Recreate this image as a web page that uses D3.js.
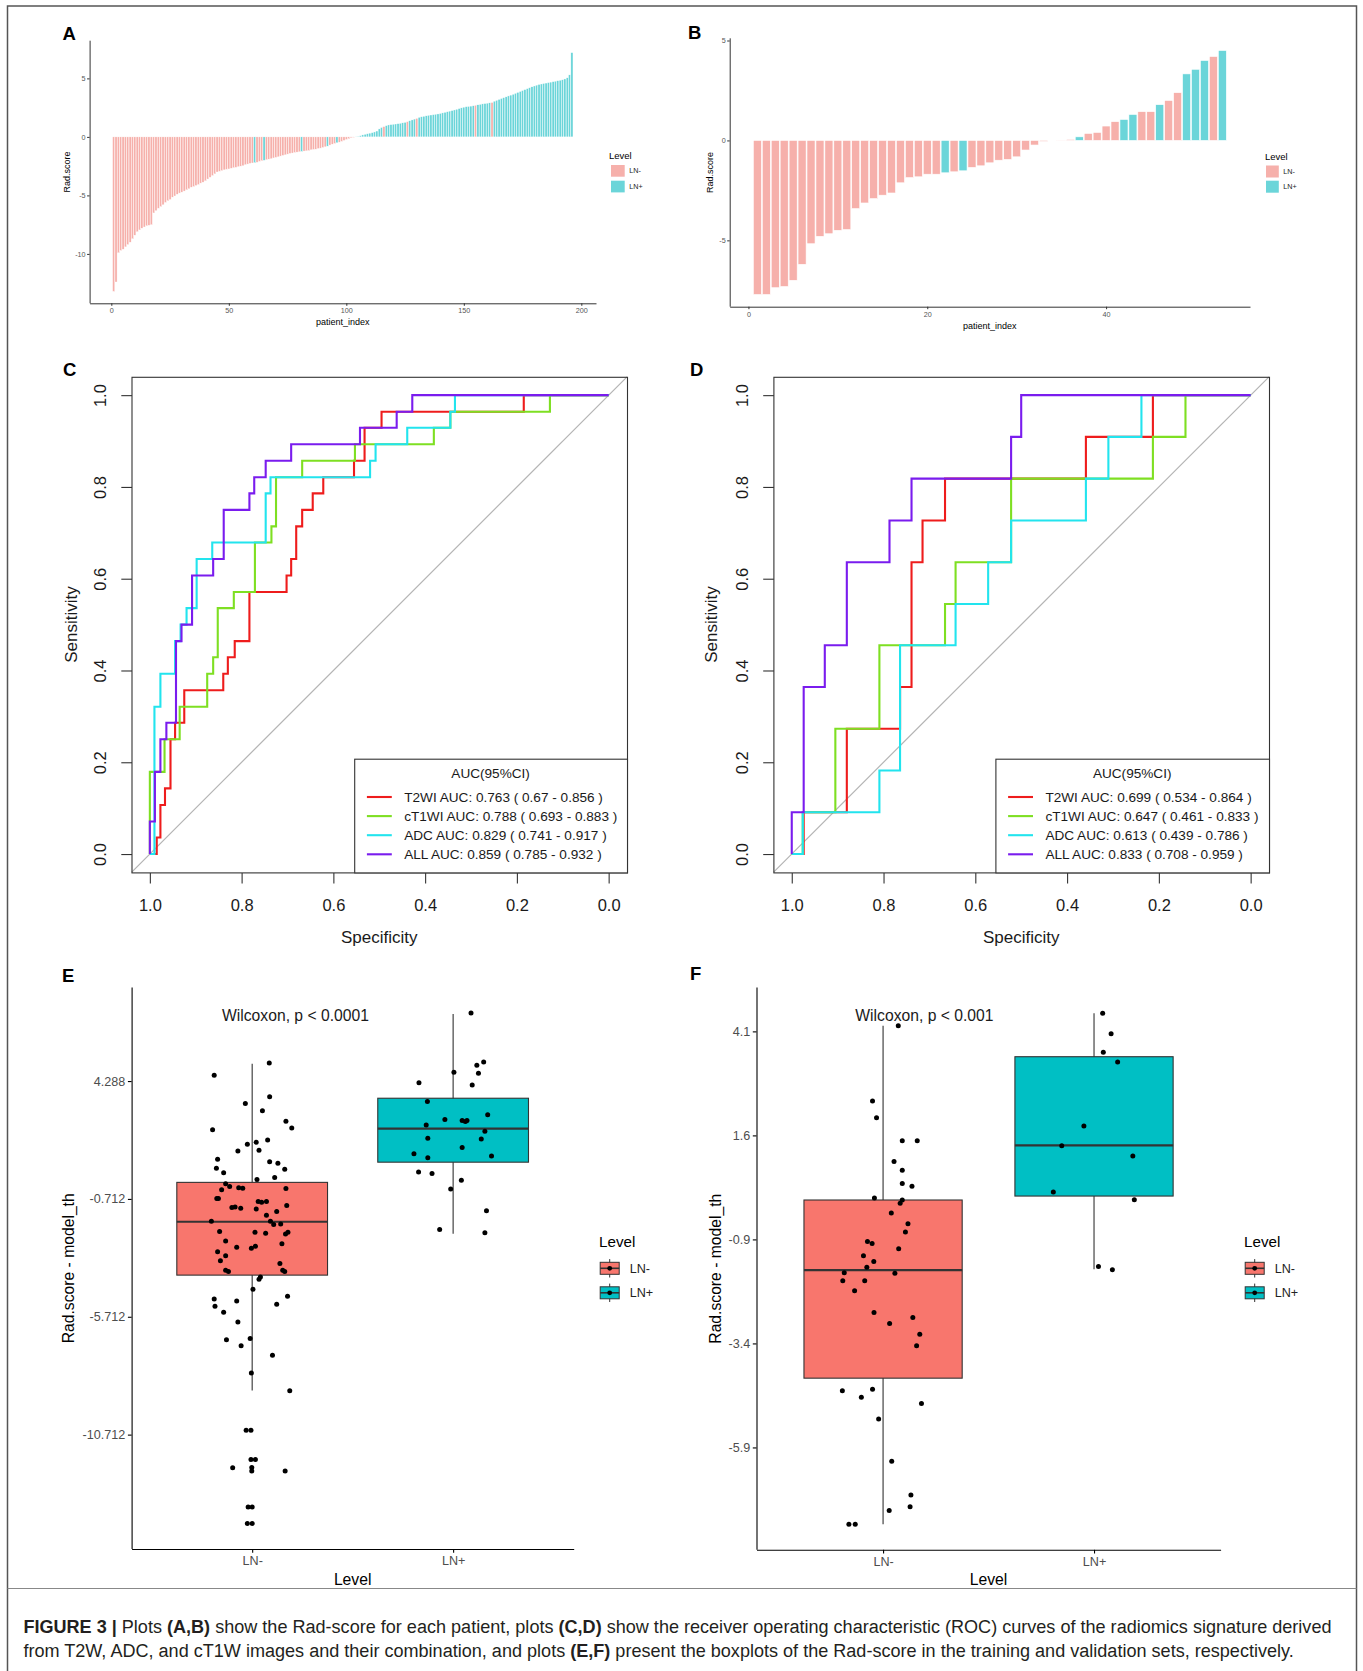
<!DOCTYPE html>
<html><head><meta charset="utf-8">
<script src="https://cdn.jsdelivr.net/npm/d3@7"></script>
<style>body{margin:0;background:#fff}svg{display:block}</style>
</head><body>
<svg id="fig" width="1363" height="1671"></svg>
<script>
// ---------------- DATA ----------------
// Panel A: Rad-score per patient (training set), sorted
const radA = [
-13.2,-12.4,-9.9,-9.7,-9.6,-9.4,-9.2,-9.0,-8.7,-8.4,
-8.1,-7.95,-7.8,-7.7,-7.6,-7.55,-7.5,-6.5,-6.3,-6.1,
-5.95,-5.8,-5.6,-5.45,-5.35,-5.15,-5.05,-4.9,-4.8,-4.72,
-4.63,-4.52,-4.43,-4.3,-4.24,-4.15,-4.07,-3.95,-3.87,-3.75,
-3.6,-3.45,-3.3,-3.16,-3.0,-2.94,-2.88,-2.82,-2.77,-2.74,
-2.68,-2.63,-2.6,-2.54,-2.5,-2.46,-2.37,-2.32,-2.26,-2.23,
-2.2,-2.17,-2.09,-2.03,-2.0,-1.95,-1.9,-1.86,-1.8,-1.75,
-1.7,-1.64,-1.58,-1.53,-1.47,-1.41,-1.38,-1.33,-1.3,-1.27,
-1.24,-1.21,-1.19,-1.16,-1.1,-1.07,-1.05,-0.99,-0.96,-0.9,
-0.85,-0.79,-0.7,-0.62,-0.56,-0.5,-0.45,-0.38,-0.3,-0.22,
-0.15,-0.08,-0.04,0.02,0.05,0.1,0.17,0.22,0.27,0.32,
0.36,0.42,0.5,0.68,0.8,0.88,0.96,1.02,1.05,1.08,
1.1,1.13,1.16,1.2,1.24,1.3,1.38,1.45,1.52,1.58,
1.67,1.72,1.76,1.8,1.84,1.87,1.9,1.93,1.96,2.0,
2.05,2.1,2.15,2.2,2.25,2.3,2.36,2.42,2.48,2.54,
2.58,2.6,2.63,2.66,2.7,2.74,2.78,2.82,2.85,2.88,
2.91,2.94,3.05,3.12,3.2,3.28,3.35,3.42,3.5,3.57,
3.64,3.72,3.8,3.88,3.96,4.04,4.12,4.2,4.28,4.35,
4.42,4.48,4.52,4.56,4.6,4.64,4.68,4.72,4.76,4.8,
4.84,4.88,4.95,5.05,5.3,7.2];
// patients (1-based) whose level differs from the sign of their score
const flipA = [61,65,81,92,96,116,126,130,155,162];

// Panel B: Rad-score per patient (validation set)
const radB = [-7.71,-7.71,-7.37,-7.31,-7.0,-6.2,-5.17,-4.8,-4.67,-4.5,
-4.46,-3.41,-3.13,-2.91,-2.74,-2.63,-2.12,-1.86,-1.82,-1.69,
-1.69,-1.62,-1.57,-1.52,-1.35,-1.27,-1.12,-0.99,-0.95,-0.82,
-0.48,-0.23,-0.05,-0.02,0.01,0.05,0.18,0.35,0.4,0.72,
0.94,1.05,1.3,1.44,1.44,1.79,2.0,2.39,3.33,3.56,
4.0,4.2,4.5];
const lnPlusB = [22,24,37,42,43,46,49,50,51,53];

const barXTicksA = [0,50,100,150,200];
const barYTicksA = [5,0,-5,-10];
const barXTicksB = [0,20,40];
const barYTicksB = [5,0,-5];
const levels = ["LN-","LN+"];

// Panels C, D: ROC step curves, [specificity, sensitivity] at each rise
const rocC_T2WI = [[1,0],[0.985,0.036],[0.977,0.107],[0.967,0.143],[0.955,0.25],[0.945,0.286],[0.925,0.357],[0.84,0.393],[0.83,0.429],[0.815,0.464],[0.783,0.571],[0.702,0.607],[0.692,0.643],[0.681,0.714],[0.668,0.75],[0.645,0.786],[0.622,0.821],[0.555,0.857],[0.532,0.929],[0.495,0.964],[0.185,1],[0,1]];
const rocC_cT1WI = [[1,0],[1,0.179],[0.968,0.25],[0.935,0.321],[0.875,0.393],[0.862,0.429],[0.852,0.536],[0.817,0.571],[0.771,0.679],[0.735,0.714],[0.725,0.821],[0.668,0.857],[0.553,0.893],[0.381,0.929],[0.345,0.964],[0.128,1],[0,1]];
const rocC_ADC = [[1,0],[0.99,0.321],[0.977,0.393],[0.945,0.464],[0.933,0.5],[0.92,0.536],[0.898,0.643],[0.864,0.679],[0.7475,0.786],[0.737,0.821],[0.52,0.857],[0.508,0.893],[0.439,0.929],[0.345,0.964],[0.335,1],[0,1]];
const rocC_ALL = [[1,0],[1,0.071],[0.989,0.179],[0.977,0.25],[0.964,0.286],[0.943,0.464],[0.931,0.5],[0.908,0.607],[0.862,0.643],[0.839,0.75],[0.783,0.786],[0.7725,0.821],[0.7475,0.857],[0.692,0.893],[0.542,0.929],[0.462,0.964],[0.428,1],[0,1]];
const aucLabelsC = ["T2WI AUC: 0.763 ( 0.67 - 0.856 )","cT1WI AUC: 0.788 ( 0.693 - 0.883 )","ADC AUC: 0.829 ( 0.741 - 0.917 )","ALL AUC: 0.859 ( 0.785 - 0.932 )"];

const rocD_T2WI = [[1,0],[0.974,0.091],[0.88,0.273],[0.764,0.364],[0.739,0.636],[0.715,0.727],[0.666,0.818],[0.359,0.909],[0.213,1],[0,1]];
const rocD_cT1WI = [[1,0],[0.976,0.091],[0.905,0.273],[0.809,0.455],[0.666,0.545],[0.643,0.636],[0.522,0.818],[0.213,0.909],[0.142,1],[0,1]];
const rocD_ADC = [[1,0],[0.976,0.091],[0.809,0.182],[0.764,0.455],[0.643,0.545],[0.572,0.636],[0.522,0.727],[0.359,0.818],[0.31,0.909],[0.238,1],[0,1]];
const rocD_ALL = [[1,0],[1,0.091],[0.974,0.364],[0.928,0.455],[0.88,0.636],[0.787,0.727],[0.739,0.818],[0.522,0.909],[0.5,1],[0,1]];
const aucLabelsD = ["T2WI AUC: 0.699 ( 0.534 - 0.864 )","cT1WI AUC: 0.647 ( 0.461 - 0.833 )","ADC AUC: 0.613 ( 0.439 - 0.786 )","ALL AUC: 0.833 ( 0.708 - 0.959 )"];
const rocTicks = [1,0.8,0.6,0.4,0.2,0];

// Panels E, F: box statistics [lower whisker, Q1, median, Q3, upper whisker]
const boxE_neg = [-8.84,-3.945,-1.68,-0.01,5.02];
const boxE_pos = [-2.19,0.847,2.27,3.56,7.13];
const boxF_neg = [-7.746,-4.235,-1.637,0.047,4.233];
const boxF_pos = [-1.618,0.142,1.36,3.491,4.538];
// jittered points: [value, horizontal jitter in category units]
const ptsE_neg = [[5.059,0.085],[4.539,-0.189],[3.618,0.087],[3.333,-0.034],[3.031,0.051],[2.579,0.168],[2.227,-0.197],[2.294,0.197],[1.791,0.077],[1.607,-0.024],
[1.69,0.02],[1.355,0.034],[1.322,-0.071],[0.97,-0.172],[0.869,0.087],[0.802,0.128],[0.584,-0.178],[0.4,-0.142],[0.551,0.162],[0.199,0.112],
[0.115,0.024],[-0.069,-0.132],[-0.187,-0.112],[-0.237,-0.067],[-0.254,-0.047],[-0.321,-0.152],[-0.271,0.168],[-0.689,-0.176],[-0.689,-0.168],[-0.823,0.03],
[-0.857,0.047],[-0.823,0.071],[-1.075,-0.101],[-1.058,-0.085],[-1.108,-0.057],[-1.142,0.02],[-0.991,0.172],[-1.242,0.122],[-1.41,0.071],[-1.661,0.091],
[-1.661,-0.203],[-1.795,0.107],[-1.779,0.142],[-2.097,-0.162],[-2.131,0.014],[-2.164,0.067],[-2.131,0.178],[-2.198,0.166],[-2.499,-0.132],[-2.617,0.148],
[-2.767,-0.077],[-2.717,0.016],[-2.801,-0.004],[-2.952,-0.172],[-3.119,-0.132],[-3.337,-0.158],[-3.455,0.138],[-3.739,-0.132],[-3.79,-0.118],[-3.739,0.152],
[-3.79,0.162],[-4.024,0.041],[-4.125,0.034],[-4.544,0.004],[-4.846,0.176],[-4.963,-0.189],[-5.047,-0.077],[-5.264,-0.185],[-5.181,0.122],[-5.516,-0.142],
[-5.935,-0.071],[-6.689,-0.128],[-6.639,-0.01],[-6.94,-0.055],[-7.343,0.101],[-8.097,-0.004],[-8.851,0.187],[-10.527,-0.03],[-10.527,-0.006],[-11.767,-0.006],
[-11.767,0.016],[-12.119,-0.097],[-12.102,-0.002],[-12.253,-0.002],[-12.253,0.164],[-13.778,-0.02],[-13.778,0],[-14.482,-0.024],[-14.482,0]];
const ptsE_pos = [[7.171,0.089],[5.092,0.152],[4.958,0.118],[4.657,0.004],[4.623,0.126],[4.221,-0.17],[4.12,0.095],[3.417,-0.128],[2.864,0.172],[2.662,-0.041],
[2.612,0.045],[2.612,0.069],[2.578,0.061],[2.428,-0.134],[2.16,0.158],[1.858,-0.126],[1.825,0.14],[1.472,0.045],[1.204,-0.195],[1.104,0.191],
[1.037,-0.126],[0.433,-0.172],[0.366,-0.105],[0.082,0.041],[-0.287,-0.012],[-1.209,0.166],[-2.013,-0.067],[-2.147,0.158]];
const ptsF_neg = [[4.233,0.072],[2.425,-0.05],[2.026,-0.031],[1.474,0.091],[1.474,0.162],[0.97,0.052],[0.76,0.091],[0.446,0.091],[0.38,0.137],[0.094,-0.041],
[0.047,0.091],[-0.029,0.081],[-0.267,0.039],[-0.524,0.118],[-0.724,0.106],[-0.952,-0.074],[-1.0,-0.052],[-1.124,0.074],[-1.295,-0.093],[-1.428,-0.044],
[-1.571,-0.077],[-1.704,-0.184],[-1.713,0.056],[-1.894,-0.191],[-1.894,-0.087],[-2.132,-0.135],[-2.655,-0.043],[-2.779,0.141],[-2.922,0.031],[-3.179,0.174],
[-3.455,0.159],[-4.539,-0.193],[-4.501,-0.05],[-4.692,-0.103],[-4.844,0.182],[-5.215,-0.021],[-6.233,0.041],[-7.042,0.132],[-7.327,0.128],[-7.413,0.029],
[-7.746,-0.162],[-7.746,-0.132]];
const ptsF_pos = [[4.538,0.041],[4.043,0.081],[3.596,0.044],[3.367,0.112],[1.826,-0.048],[1.35,-0.153],[1.103,0.184],[0.237,-0.193],[0.056,0.191],[-1.552,0.021],[-1.628,0.087]];
const yTicksE = [4.288,-0.712,-5.712,-10.712];
const yTicksF = [4.1,1.6,-0.9,-3.4,-5.9];

const captionLine1 = [["FIGURE 3 |",true],[" Plots ",false],["(A,B)",true],[" show the Rad-score for each patient, plots ",false],["(C,D)",true],[" show the receiver operating characteristic (ROC) curves of the radiomics signature derived",false]];
const captionLine2 = [["from T2W, ADC, and cT1W images and their combination, and plots ",false],["(E,F)",true],[" present the boxplots of the Rad-score in the training and validation sets, respectively.",false]];

// ---------------- STYLE ----------------
const FONT = "'Liberation Sans', Arial, Helvetica, sans-serif";
const PINK_L = "#F6B0AB", CYAN_L = "#6BD5D9";
const BOX_NEG = "#F8766D", BOX_POS = "#00BFC4";
const ROC_COLS = ["#EE1C1C","#7EDF22","#22E4EE","#7A1CEE"];

const svg = d3.select("#fig");
svg.append("rect").attr("width",1363).attr("height",1671).attr("fill","#fff");
svg.append("rect").attr("x",7.5).attr("y",6).attr("width",1349).attr("height",1720)
  .attr("fill","none").attr("stroke","#555").attr("stroke-width",1.5);
svg.append("line").attr("x1",7.5).attr("x2",1356.5).attr("y1",1588.5).attr("y2",1588.5)
  .attr("stroke","#888").attr("stroke-width",1);

function styleAxis(sel, fs, txtCol, lineCol, lw){
  sel.attr("font-family",FONT).attr("font-size",fs);
  sel.selectAll("text").attr("fill",txtCol);
  sel.selectAll("line").attr("stroke",lineCol).attr("stroke-width",lw);
  sel.select(".domain").attr("stroke",lineCol).attr("stroke-width",lw);
}
function txt(g,x,y,s,fs,opts={}){
  const t=g.append("text").attr("x",x).attr("y",y).text(s)
    .attr("font-family",FONT).attr("font-size",fs).attr("fill",opts.fill||"#000");
  if(opts.anchor) t.attr("text-anchor",opts.anchor);
  if(opts.weight) t.attr("font-weight",opts.weight);
  return t;
}
function vtxt(g,cx,cy,s,fs,fill){
  return g.append("text").attr("transform",`translate(${cx},${cy}) rotate(-90)`)
    .attr("text-anchor","middle").attr("dy","0.35em").text(s)
    .attr("font-family",FONT).attr("font-size",fs).attr("fill",fill||"#000");
}

// ---------------- BAR PANELS ----------------
function barPanel(o){
  const g=svg.append("g");
  const n=o.values.length, idx=d3.range(1,n+1);
  const lo=Math.min(0,d3.min(o.values)), hi=Math.max(0,d3.max(o.values));
  const ex=(n-0.1)*0.05, ey=(hi-lo)*0.05;
  const x=d3.scaleLinear().domain([0.55-ex,n+0.45+ex]).range([o.left,o.right]);
  const y=d3.scaleLinear().domain([lo-ey,hi+ey]).range([o.bottom,o.top]);
  const bw=(x(1)-x(0))*0.9;
  g.append("g").selectAll("rect").data(idx).join("rect")
    .attr("x",i=>x(i)-bw/2).attr("width",bw)
    .attr("y",i=>Math.min(y(0),y(o.values[i-1])))
    .attr("height",i=>Math.abs(y(o.values[i-1])-y(0)))
    .attr("fill",i=>o.level(i)==="LN+"?CYAN_L:PINK_L)
    .attr("stroke","#fff").attr("stroke-width",o.sw);
  const xa=g.append("g").attr("transform",`translate(0,${o.bottom})`)
    .call(d3.axisBottom(x).tickValues(o.xTicks).tickSize(2.5).tickSizeOuter(0).tickPadding(2.5).tickFormat(d=>String(d)));
  styleAxis(xa,o.tickFs,"#555","#333",1);
  const ya=g.append("g").attr("transform",`translate(${o.left},0)`)
    .call(d3.axisLeft(y).tickValues(o.yTicks).tickSize(2.5).tickSizeOuter(0).tickPadding(1.5).tickFormat(d=>String(d)));
  styleAxis(ya,o.tickFs,"#555","#333",1);
  ya.select(".domain").attr("d",`M0.5,${o.bottom}V${o.top}`);
  txt(g,(o.left+o.right)/2,o.xTitleY,"patient_index",o.titleFs,{anchor:"middle"});
  vtxt(g,o.yTitleX,(o.top+o.bottom)/2,"Rad.score",o.titleFs);
  // legend
  txt(g,o.legX,o.legTitleY,"Level",o.legTitleFs);
  levels.forEach((lv,k)=>{
    const ky=o.keyY+k*o.keyStep;
    g.append("rect").attr("x",o.keyX).attr("y",ky).attr("width",o.keyW).attr("height",o.keyH)
      .attr("fill",lv==="LN+"?CYAN_L:PINK_L);
    txt(g,o.keyX+o.keyW+4.5,ky+o.keyH/2+2.6,lv,o.tickFs,{fill:"#222"});
  });
}
barPanel({values:radA, level:i=>((radA[i-1]>0)!==flipA.includes(i))?"LN+":"LN-",
  left:89.6,right:596,top:40.7,bottom:303.3,xTicks:barXTicksA,yTicks:barYTicksA,sw:0.35,
  tickFs:7.2,titleFs:9,xTitleY:324.8,yTitleX:67,
  legX:609,legTitleY:159,legTitleFs:9.5,keyX:611,keyY:165,keyStep:15.7,keyW:13.7,keyH:11.7});
barPanel({values:radB, level:i=>lnPlusB.includes(i)?"LN+":"LN-",
  left:729.7,right:1250,top:38.3,bottom:306.7,xTicks:barXTicksB,yTicks:barYTicksB,sw:0.6,
  tickFs:7.2,titleFs:9,xTitleY:329,yTitleX:710,
  legX:1265,legTitleY:159.5,legTitleFs:9.5,keyX:1266,keyY:165.5,keyStep:15.2,keyW:12.8,keyH:12});

// ---------------- ROC PANELS ----------------
function rocPanel(o){
  const g=svg.append("g");
  const x=d3.scaleLinear().domain([1.04,-0.04]).range([o.left,o.right]);
  const y=d3.scaleLinear().domain([-0.04,1.04]).range([o.bottom,o.top]);
  g.append("line").attr("x1",x(1.04)).attr("y1",y(-0.04)).attr("x2",x(-0.04)).attr("y2",y(1.04))
    .attr("stroke","#B4B4B4").attr("stroke-width",1.2);
  const line=d3.line().x(d=>x(d[0])).y(d=>y(d[1])).curve(d3.curveStepAfter);
  o.curves.forEach((c,k)=>{
    g.append("path").attr("d",line(c)).attr("fill","none").attr("stroke",ROC_COLS[k])
      .attr("stroke-width",2.1).attr("stroke-linejoin","miter");
  });
  g.append("rect").attr("x",o.left+0.5).attr("y",o.top+0.5).attr("width",o.right-o.left).attr("height",o.bottom-o.top)
    .attr("fill","none").attr("stroke","#333").attr("stroke-width",1.1);
  const xa=g.append("g").attr("transform",`translate(0,${o.bottom+0.5})`)
    .call(d3.axisBottom(x).tickValues(rocTicks).tickSize(10.7).tickSizeOuter(0).tickPadding(15.3).tickFormat(d3.format(".1f")));
  styleAxis(xa,16.5,"#1a1a1a","#333",1.1);
  xa.select(".domain").remove();
  const ya=g.append("g").attr("transform",`translate(${o.left+0.5},0)`)
    .call(d3.axisLeft(y).tickValues(rocTicks).tickSize(10.7).tickSizeOuter(0).tickFormat(d3.format(".1f")));
  styleAxis(ya,16.5,"#1a1a1a","#333",1.1);
  ya.select(".domain").remove();
  ya.selectAll(".tick text").attr("x",null).attr("dy",null).attr("text-anchor","middle")
    .attr("transform","translate(-31.7,0) rotate(-90)").attr("dy","0.36em");
  txt(g,(o.left+o.right)/2,943,"Specificity",17,{anchor:"middle",fill:"#1a1a1a"});
  vtxt(g,o.yTitleX,(o.top+o.bottom)/2,"Sensitivity",17,"#1a1a1a");
  // legend
  const lx=o.legLeft, ly=758.7;
  g.append("rect").attr("x",lx+0.5).attr("y",ly+0.5).attr("width",o.right-lx).attr("height",o.bottom-ly)
    .attr("fill","#fff").attr("stroke","#333").attr("stroke-width",1.1);
  txt(g,(lx+o.right)/2,778,"AUC(95%CI)",13.6,{anchor:"middle",fill:"#1a1a1a"});
  o.labels.forEach((s,k)=>{
    const yy=797+k*19.1;
    g.append("line").attr("x1",lx+12.7).attr("x2",lx+37.6).attr("y1",yy).attr("y2",yy)
      .attr("stroke",ROC_COLS[k]).attr("stroke-width",2.1);
    txt(g,lx+50,yy+4.9,s,13.6,{fill:"#1a1a1a"});
  });
}
rocPanel({left:131.5,right:627,top:376.8,bottom:872.4,yTitleX:71,legLeft:354.2,
  curves:[rocC_T2WI,rocC_cT1WI,rocC_ADC,rocC_ALL],labels:aucLabelsC});
rocPanel({left:773.4,right:1269,top:376.8,bottom:872.4,yTitleX:711,legLeft:995.4,
  curves:[rocD_T2WI,rocD_cT1WI,rocD_ADC,rocD_ALL],labels:aucLabelsD});

// ---------------- BOX PANELS ----------------
function boxPanel(o){
  const g=svg.append("g");
  const x=d3.scalePoint().domain(levels).range([o.left,o.right]).padding(0.6);
  const step=x.step();
  const allV=[...o.boxes.flat(),...o.pts.flat().map(p=>p[0])];
  const lo=d3.min(allV), hi=d3.max(allV), e=(hi-lo)*0.05;
  const y=d3.scaleLinear().domain([lo-e,hi+e]).range([o.bottom,o.top]);
  const bw=step*0.75;
  levels.forEach((lv,k)=>{
    const b=o.boxes[k], cx=x(lv);
    g.append("line").attr("x1",cx).attr("x2",cx).attr("y1",y(b[0])).attr("y2",y(b[4]))
      .attr("stroke","#333").attr("stroke-width",1.1);
    g.append("rect").attr("x",cx-bw/2).attr("width",bw).attr("y",y(b[3])).attr("height",y(b[1])-y(b[3]))
      .attr("fill",k?BOX_POS:BOX_NEG).attr("stroke","#333").attr("stroke-width",1.1);
    g.append("line").attr("x1",cx-bw/2).attr("x2",cx+bw/2).attr("y1",y(b[2])).attr("y2",y(b[2]))
      .attr("stroke","#333").attr("stroke-width",2.2);
    g.append("g").selectAll("circle").data(o.pts[k]).join("circle")
      .attr("cx",p=>cx+p[1]*step).attr("cy",p=>y(p[0])).attr("r",2.5).attr("fill","#000");
  });
  const xa=g.append("g").attr("transform",`translate(0,${o.bottom})`)
    .call(d3.axisBottom(x).tickSize(3.7).tickSizeOuter(0).tickPadding(3.5));
  styleAxis(xa,12.6,"#4D4D4D","#000",1.1);
  const ya=g.append("g").attr("transform",`translate(${o.left},0)`)
    .call(d3.axisLeft(y).tickValues(o.yTicks).tickSize(3.7).tickSizeOuter(0).tickPadding(2.6).tickFormat(d=>String(d)));
  styleAxis(ya,12.6,"#4D4D4D","#000",1.1);
  ya.select(".domain").attr("d",`M0.5,${o.bottom}V${o.top}`);
  txt(g,(o.left+o.right)/2,1585,"Level",15.7,{anchor:"middle"});
  vtxt(g,o.yTitleX,(o.top+o.bottom)/2,"Rad.score - model_th",15.7);
  txt(g,o.wilX,1020.7,o.wilText,15.7,{fill:"#1a1a1a"});
  // legend
  txt(g,o.legX,1247.3,"Level",15.2);
  levels.forEach((lv,k)=>{
    const cy=1268.3+k*24.5, cx=o.legX+10.7;
    g.append("line").attr("x1",cx).attr("x2",cx).attr("y1",cy-9.2).attr("y2",cy+9.2).attr("stroke","#333").attr("stroke-width",1);
    g.append("rect").attr("x",cx-9.5).attr("y",cy-6).attr("width",19).attr("height",12)
      .attr("fill",k?BOX_POS:BOX_NEG).attr("stroke","#333").attr("stroke-width",1);
    g.append("line").attr("x1",cx-9.5).attr("x2",cx+9.5).attr("y1",cy).attr("y2",cy).attr("stroke","#333").attr("stroke-width",1.6);
    g.append("circle").attr("cx",cx).attr("cy",cy).attr("r",2.4).attr("fill","#000");
    txt(g,cx+20,cy+4.5,lv,12.6,{fill:"#222"});
  });
}
boxPanel({left:131.6,right:573.7,top:987.6,bottom:1549,boxes:[boxE_neg,boxE_pos],pts:[ptsE_neg,ptsE_pos],
  yTicks:yTicksE,yTitleX:68.4,wilX:222,wilText:"Wilcoxon, p < 0.0001",legX:599});
boxPanel({left:756.5,right:1220.6,top:987.6,bottom:1549.8,boxes:[boxF_neg,boxF_pos],pts:[ptsF_neg,ptsF_pos],
  yTicks:yTicksF,yTitleX:715.3,wilX:855.3,wilText:"Wilcoxon, p < 0.001",legX:1244});

// ---------------- PANEL LABELS ----------------
[["A",62.5,39.5],["B",688,39],["C",63,376],["D",690,376],["E",62,982],["F",690,980]].forEach(d=>{
  txt(svg,d[1],d[2],d[0],18.5,{weight:"bold"});
});

// ---------------- CAPTION ----------------
function captionLine(parts,yb){
  const t=svg.append("text").attr("x",23.4).attr("y",yb).attr("font-family",FONT).attr("font-size",17).attr("fill","#231F20");
  parts.forEach(p=>t.append("tspan").text(p[0]).attr("font-weight",p[1]?"bold":"normal"));
  return t;
}
const c1=captionLine(captionLine1,1633), c2=captionLine(captionLine2,1657);
const w1=c1.node().getComputedTextLength();
const fs=17*1309/w1;
c1.attr("font-size",fs); c2.attr("font-size",fs);
</script>
</body></html>
